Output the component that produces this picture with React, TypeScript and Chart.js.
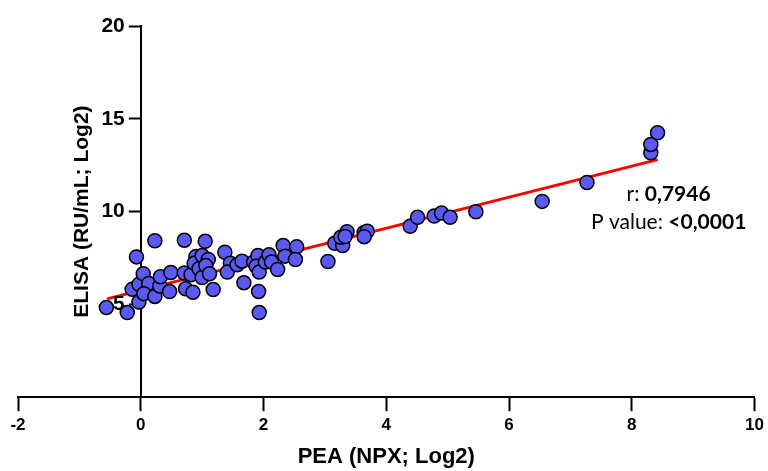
import React, { useEffect, useRef } from 'react';
import { Chart, registerables } from 'chart.js';

Chart.register(...registerables);

// PEA (NPX; Log2) values
const peaX = [
  -0.56, -0.22, -0.07, -0.14, -0.03, 0.04, 0.13, -0.03, 0.05, 0.23,
  0.31, 0.32, 0.47, 0.49, 0.23, 0.71, 1.05, 0.73, 0.85, 0.71,
  0.82, 0.90, 0.87, 0.95, 1.0, 1.0, 1.10, 1.06, 1.12, 1.18,
  1.37, 1.46, 1.41, 1.57, 1.65, 1.68, 1.84, 1.91, 1.88, 1.93,
  1.92, 1.93, 2.03, 2.09, 2.13, 2.23, 2.32, 2.35, 2.54, 2.52,
  3.05, 3.16, 3.29, 3.36, 3.26, 3.33, 3.64, 3.69, 3.64, 4.39,
  4.51, 4.78, 4.90, 5.04, 5.46, 6.54, 7.27, 8.31, 8.31, 8.42,
];
// ELISA (RU/mL; Log2) values
const elisaY = [
  4.83, 4.56, 7.56, 5.81, 6.08, 6.65, 6.13, 5.13, 5.58, 5.43,
  5.99, 6.49, 5.69, 6.72, 8.43, 8.46, 8.40, 5.84, 5.66, 6.69,
  6.60, 7.58, 7.22, 6.92, 6.45, 7.63, 7.42, 7.09, 6.65, 5.80,
  7.81, 7.22, 6.74, 7.13, 7.33, 6.17, 7.28, 7.63, 7.06, 6.74,
  5.70, 4.56, 7.28, 7.67, 7.28, 6.88, 8.17, 7.60, 8.10, 7.42,
  7.31, 8.29, 8.17, 8.92, 8.62, 8.66, 8.88, 8.94, 8.65, 9.21,
  9.69, 9.76, 9.92, 9.69, 9.99, 10.55, 11.57, 13.17, 13.62, 14.25,
];
// regression line end points
const fitX = [-0.55, 8.42];
const fitY = [5.3, 12.8];

const xTickValues = [-2, 0, 2, 4, 6, 8, 10];
const yTickValues = [5, 10, 15, 20];

const xTitle = 'PEA (NPX; Log2)';
const yTitle = 'ELISA (RU/mL; Log2)';
const rLabel = 'r: ';
const rValue = '0,7946';
const pLabel = 'P value: ';
const pValue = '<0,0001';

const AXIS_FONT = 'Arial, "Liberation Sans", Helvetica, sans-serif';
const NOTE_FONT = 'Lato, "Open Sans", "Noto Sans", sans-serif';

const axisPlacer = {
  id: 'axisPlacer',
  afterLayout(chart: any) {
    const xs = chart.scales.x;
    const ys = chart.scales.y;
    const px = xs.getPixelForValue(0);
    ys.right = px;
    ys.left = px - 71;
    ys.width = 71;
  },
};

const annotation = {
  id: 'annotation',
  afterDraw(chart: any) {
    const ctx = chart.ctx;
    const xs = chart.scales.x;
    const ys = chart.scales.y;
    const cx = xs.getPixelForValue(8.6);
    const lines = [
      { y: ys.getPixelForValue(10.55), parts: [[rLabel, 'normal'], [rValue, 'bold']] },
      { y: ys.getPixelForValue(9.08), parts: [[pLabel, 'normal'], [pValue, 'bold']] },
    ];
    ctx.save();
    ctx.fillStyle = '#000';
    ctx.textBaseline = 'alphabetic';
    ctx.textAlign = 'left';
    for (const line of lines) {
      let total = 0;
      for (const [t, w] of line.parts) {
        ctx.font = `${w} 21px ${NOTE_FONT}`;
        total += ctx.measureText(t).width;
      }
      let x = cx - total / 2;
      for (const [t, w] of line.parts) {
        ctx.font = `${w} 21px ${NOTE_FONT}`;
        ctx.fillText(t, x, line.y);
        x += ctx.measureText(t).width;
      }
    }
    ctx.restore();
  },
};

export default function App() {
  const ref = useRef<HTMLCanvasElement>(null);

  useEffect(() => {
    if (!ref.current) return;
    const chart = new Chart(ref.current, {
      type: 'scatter',
      data: {
        datasets: [
          {
            label: 'samples',
            data: peaX.map((x, i) => ({ x, y: elisaY[i] })),
            backgroundColor: '#5a5af2',
            borderColor: '#000000',
            borderWidth: 1.5,
            pointRadius: 7,
            pointHoverRadius: 7,
          },
          {
            label: 'fit',
            data: fitX.map((x, i) => ({ x, y: fitY[i] })),
            showLine: true,
            borderColor: '#ff0000',
            borderWidth: 3,
            pointRadius: 0,
            fill: false,
          } as any,
        ],
      },
      options: {
        responsive: false,
        animation: false,
        devicePixelRatio: 1,
        layout: { padding: { top: 26, left: 18, right: 8, bottom: 0 } },
        plugins: { legend: { display: false }, tooltip: { enabled: false } },
        scales: {
          x: {
            type: 'linear',
            position: 'bottom',
            min: -2,
            max: 10,
            afterBuildTicks: (s: any) => {
              s.ticks = xTickValues.map((v) => ({ value: v }));
            },
            ticks: {
              font: { family: AXIS_FONT, size: 17, weight: 'bold' },
              color: '#000',
              padding: 4,
              maxRotation: 0,
              autoSkip: false,
            },
            grid: {
              drawOnChartArea: false,
              drawTicks: true,
              tickLength: 14,
              tickWidth: 2,
              tickColor: '#000',
            },
            border: { color: '#000', width: 2 },
            title: {
              display: true,
              text: xTitle,
              color: '#000',
              font: { family: AXIS_FONT, size: 22, weight: 'bold' },
              padding: { top: 4, bottom: 1 },
            },
          },
          y: {
            type: 'linear',
            position: 'left',
            min: 0,
            max: 20,
            afterBuildTicks: (s: any) => {
              s.ticks = yTickValues.map((v) => ({ value: v }));
            },
            afterFit: (s: any) => {
              s.width = 0;
            },
            ticks: {
              font: { family: AXIS_FONT, size: 21, weight: 'bold' },
              color: '#000',
              padding: 4,
              z: 1,
            },
            grid: {
              drawOnChartArea: false,
              drawTicks: true,
              tickLength: 12,
              tickWidth: 2,
              tickColor: '#000',
            },
            border: { color: '#000', width: 2 },
            title: {
              display: true,
              text: yTitle,
              color: '#000',
              font: { family: AXIS_FONT, size: 21, weight: 'bold' },
              padding: 0,
            },
          },
        },
      } as any,
      plugins: [axisPlacer, annotation],
    });
    return () => chart.destroy();
  }, []);

  return (
    <div style={{ position: 'absolute', left: 0, top: 0, width: 768, height: 471, background: '#fff' }}>
      <canvas ref={ref} width={768} height={471} style={{ display: 'block' }} />
    </div>
  );
}
